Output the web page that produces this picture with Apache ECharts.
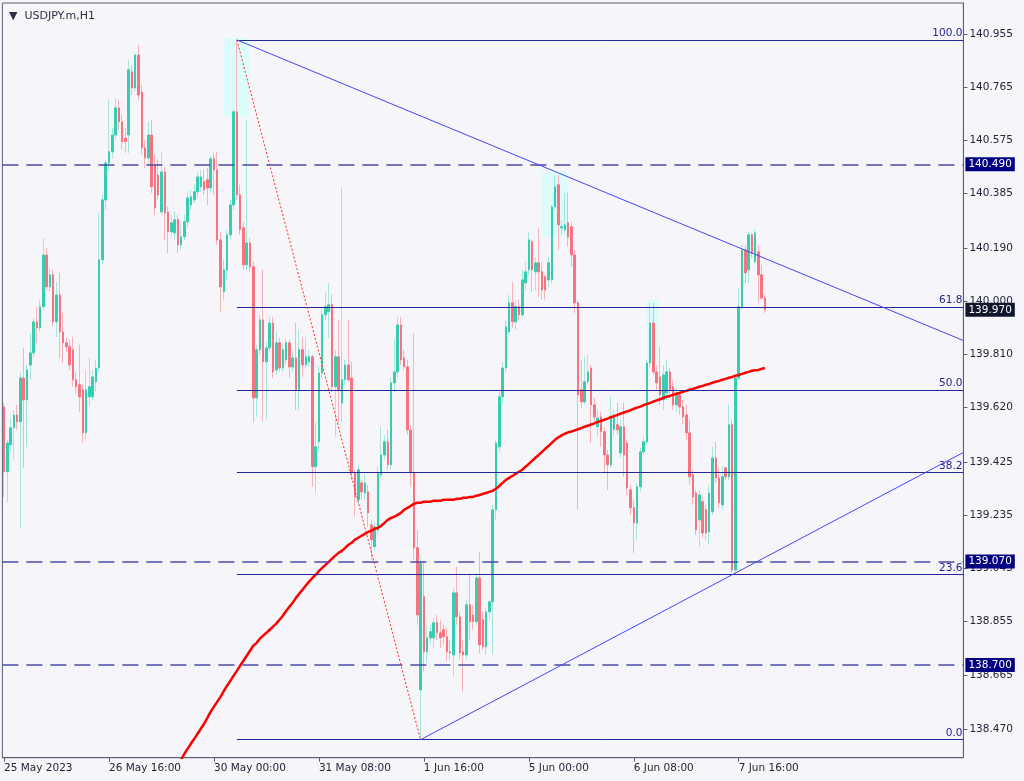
<!DOCTYPE html>
<html><head><meta charset="utf-8">
<script src="https://cdn.jsdelivr.net/npm/echarts@6/dist/echarts.min.js"></script>
<style>html,body{margin:0;padding:0;background:#f5f5fa}#c{width:1024px;height:781px}</style>
</head><body><div id="c"></div>
<script>
const symbolTitle = 'USDJPY.m,H1';
const xTickIndex = [0, 32, 64, 96, 128, 160, 192, 224];
const xTickLabels = ['25 May 2023','26 May 16:00','30 May 00:00','31 May 08:00','1 Jun 16:00','5 Jun 00:00','6 Jun 08:00','7 Jun 16:00'];
const yTicks = [140.955,140.765,140.575,140.385,140.190,140.000,139.810,139.620,139.425,139.235,139.045,138.855,138.665,138.470];

const open = [139.623,139.391,139.487,139.548,139.594,139.570,139.726,139.648,139.773,139.816,
139.927,139.905,139.981,140.166,140.052,140.095,139.927,140.023,139.891,139.852,
139.838,139.827,139.720,139.702,139.684,139.530,139.659,139.659,139.713,139.762,
140.149,140.363,140.495,140.535,140.595,140.692,140.642,140.584,140.595,140.821,
140.763,140.881,140.749,140.549,140.513,140.595,140.488,140.452,140.320,140.463,
140.320,140.249,140.245,140.292,140.202,140.231,140.285,140.345,140.363,140.392,
140.410,140.428,140.435,140.406,140.510,140.470,140.220,140.034,140.113,140.238,
140.345,140.678,140.381,140.263,140.131,140.209,140.124,139.655,139.827,139.934,
139.784,139.834,139.923,139.755,139.852,139.762,139.791,139.852,139.766,139.798,
139.684,139.827,139.773,139.784,139.802,139.409,139.498,139.744,139.952,139.963,
139.988,139.695,139.802,139.637,139.720,139.773,139.726,139.387,139.291,139.351,
139.315,139.319,139.201,139.123,139.183,139.380,139.451,139.498,139.416,139.709,
139.748,139.916,139.798,139.766,139.541,139.387,139.119,138.611,138.944,138.747,
138.797,138.797,138.851,138.815,138.826,138.801,138.747,138.736,138.958,138.872,
138.747,138.736,138.915,138.879,138.855,139.011,138.862,138.765,138.890,138.926,
139.255,139.480,139.659,139.762,139.891,139.995,139.927,139.981,139.952,140.066,
140.113,140.213,140.106,140.138,140.106,140.088,140.077,140.077,140.338,140.417,
140.263,140.256,140.281,140.267,140.166,139.995,139.684,139.641,139.713,139.762,
139.630,139.552,139.587,139.534,139.451,139.416,139.541,139.559,139.458,139.552,
139.494,139.326,139.262,139.208,139.337,139.462,139.498,139.780,139.923,139.748,
139.730,139.648,139.673,139.748,139.695,139.630,139.666,139.623,139.594,139.530,
139.380,139.315,139.219,139.284,139.255,139.176,139.248,139.440,139.369,139.273,
139.405,139.373,139.559,139.040,139.726,139.981,140.184,140.113,140.238,140.142,
140.177,140.095,140.012];
const close = [139.391,139.494,139.548,139.594,139.570,139.726,139.648,139.755,139.816,139.927,
139.905,139.981,140.166,140.052,140.095,139.927,140.023,139.891,139.852,139.838,
139.773,139.720,139.695,139.659,139.530,139.684,139.695,139.730,139.762,140.149,
140.363,140.495,140.535,140.595,140.692,140.642,140.571,140.571,140.828,140.763,
140.881,140.738,140.549,140.513,140.595,140.410,140.334,140.381,140.463,140.316,
140.249,140.281,140.292,140.202,140.231,140.285,140.370,140.374,140.392,140.445,
140.445,140.399,140.406,140.510,140.470,140.220,140.052,140.113,140.238,140.345,
140.678,140.381,140.256,140.131,140.209,140.124,139.655,139.827,139.934,139.784,
139.834,139.923,139.748,139.852,139.762,139.827,139.852,139.766,139.798,139.684,
139.827,139.773,139.802,139.802,139.409,139.480,139.744,139.952,139.981,139.988,
139.695,139.802,139.684,139.720,139.773,139.720,139.387,139.301,139.398,139.319,
139.351,139.244,139.148,139.194,139.387,139.451,139.498,139.416,139.709,139.748,
139.916,139.791,139.766,139.541,139.387,139.119,138.879,139.065,138.747,138.797,
138.819,138.851,138.815,138.797,138.801,138.747,138.743,138.958,138.872,138.743,
138.736,138.915,138.855,138.855,139.011,138.772,138.765,138.890,138.926,139.255,
139.494,139.659,139.762,139.909,139.995,139.927,139.981,139.952,140.077,140.106,
140.220,140.113,140.138,140.106,140.041,140.041,140.138,140.338,140.410,140.274,
140.267,140.274,140.231,140.166,139.995,139.666,139.641,139.713,139.748,139.630,
139.587,139.583,139.534,139.451,139.416,139.587,139.587,139.541,139.552,139.451,
139.333,139.262,139.208,139.337,139.462,139.498,139.780,139.923,139.748,139.709,
139.666,139.737,139.748,139.684,139.630,139.673,139.623,139.587,139.530,139.373,
139.301,139.183,139.308,139.172,139.172,139.315,139.440,139.369,139.280,139.373,
139.373,139.559,139.040,139.726,139.981,140.184,140.102,140.238,140.173,140.245,
140.095,140.012,139.970];
const low = [139.301,139.280,139.458,139.434,139.541,139.187,139.405,139.480,139.720,139.798,
139.852,139.891,139.970,140.041,140.034,139.909,139.873,139.798,139.780,139.820,
139.755,139.695,139.673,139.605,139.494,139.505,139.623,139.648,139.677,139.748,
140.131,140.327,140.470,140.513,140.578,140.613,140.542,140.531,140.531,140.738,
140.749,140.721,140.524,140.477,140.488,140.388,140.309,140.363,140.309,140.220,
140.173,140.227,140.220,140.173,140.184,140.220,140.263,140.327,140.352,140.370,
140.392,140.381,140.345,140.392,140.381,140.202,139.963,140.006,140.077,140.220,
140.327,140.363,140.238,140.113,140.113,140.106,139.566,139.587,139.809,139.570,
139.577,139.820,139.726,139.737,139.748,139.748,139.773,139.726,139.748,139.612,
139.612,139.730,139.762,139.766,139.337,139.315,139.462,139.726,139.934,139.869,
139.677,139.516,139.566,139.566,139.702,139.713,139.362,139.230,139.273,139.291,
139.291,139.194,139.076,139.112,139.165,139.369,139.434,139.398,139.398,139.673,
139.726,139.773,139.755,139.523,139.337,139.076,138.844,138.433,138.676,138.708,
138.772,138.761,138.790,138.761,138.772,138.712,138.719,138.658,138.844,138.719,
138.604,138.719,138.790,138.826,138.844,138.743,138.754,138.736,138.862,138.736,
139.219,139.462,139.630,139.748,139.880,139.905,139.898,139.934,139.945,140.041,
140.095,140.034,140.041,140.016,140.006,140.006,140.052,140.066,140.327,140.184,
140.238,140.245,140.195,140.124,139.959,139.255,139.619,139.630,139.702,139.494,
139.559,139.516,139.480,139.387,139.326,139.405,139.523,139.523,139.440,139.373,
139.308,139.237,139.101,139.148,139.319,139.451,139.487,139.762,139.737,139.684,
139.630,139.612,139.648,139.666,139.612,139.605,139.594,139.559,139.505,139.344,
139.273,139.165,139.123,139.154,139.148,139.130,139.237,139.351,139.262,139.255,
139.362,139.362,139.029,139.026,139.720,139.970,140.066,140.066,140.155,140.131,
139.995,140.006,139.959];
const high = [139.637,139.505,139.583,139.612,139.630,139.748,139.834,139.773,139.887,139.941,
139.981,140.006,140.227,140.191,140.120,140.113,140.070,140.102,139.959,139.869,
139.863,139.873,139.748,139.845,139.702,139.755,139.798,139.755,139.791,140.316,
140.381,140.506,140.721,140.620,140.727,140.721,140.667,140.620,140.864,140.846,
140.888,140.917,140.774,140.578,140.642,140.649,140.524,140.506,140.535,140.481,
140.338,140.309,140.320,140.309,140.274,140.309,140.392,140.399,140.417,140.463,
140.470,140.470,140.477,140.521,140.531,140.535,140.249,140.149,140.256,140.363,
140.685,140.935,140.417,140.285,140.649,140.227,140.142,139.845,139.952,140.113,
139.856,139.945,139.945,139.891,139.869,139.845,139.869,139.863,139.820,139.923,
139.898,139.873,139.873,139.827,139.809,139.566,139.766,139.970,140.034,140.066,
140.023,139.827,139.934,140.410,139.791,139.934,139.784,139.398,139.416,139.362,
139.380,139.344,139.219,139.212,139.409,139.552,139.523,139.541,139.726,139.863,
139.945,139.945,139.827,139.791,139.559,139.887,139.183,139.094,139.065,138.844,
138.844,138.868,138.879,138.862,138.844,138.833,138.790,138.976,139.051,138.890,
138.790,138.933,139.022,138.915,139.029,139.105,138.890,138.904,138.933,139.273,
139.505,139.677,139.784,139.934,140.023,140.070,140.006,140.006,140.113,140.142,
140.249,140.220,140.155,140.263,140.142,140.095,140.159,140.345,140.452,140.452,
140.292,140.388,140.388,140.285,140.184,140.006,139.791,139.802,139.809,139.773,
139.655,139.612,139.605,139.548,139.469,139.659,139.612,139.637,139.577,139.637,
139.505,139.344,139.291,139.351,139.476,139.516,139.791,139.995,139.995,139.773,
139.838,139.773,139.791,139.762,139.720,139.691,139.684,139.648,139.630,139.577,
139.398,139.326,139.326,139.301,139.273,139.344,139.480,139.498,139.405,139.409,
139.409,139.630,139.577,139.737,140.048,140.202,140.202,140.249,140.245,140.256,
140.202,140.131,140.023];

const maStart = 52;
const ma = [138.325,138.343,138.361,138.383,138.401,138.419,138.436,138.454,138.472,138.490,
138.511,138.533,138.551,138.569,138.586,138.607,138.626,138.643,138.662,138.679,
138.698,138.715,138.733,138.751,138.769,138.779,138.794,138.805,138.815,138.826,
138.837,138.848,138.862,138.876,138.893,138.908,138.922,138.940,138.955,138.969,
138.984,138.998,139.011,139.022,139.036,139.047,139.058,139.069,139.080,139.091,
139.101,139.108,139.119,139.130,139.137,139.148,139.155,139.162,139.169,139.176,
139.180,139.187,139.190,139.198,139.208,139.219,139.226,139.230,139.237,139.244,
139.255,139.262,139.269,139.276,139.280,139.280,139.284,139.284,139.284,139.287,
139.287,139.287,139.291,139.291,139.291,139.291,139.294,139.294,139.298,139.298,
139.301,139.301,139.305,139.308,139.312,139.315,139.319,139.323,139.330,139.340,
139.351,139.362,139.369,139.376,139.384,139.391,139.398,139.409,139.419,139.430,
139.441,139.451,139.462,139.473,139.483,139.494,139.505,139.514,139.521,139.527,
139.532,139.535,139.539,139.543,139.547,139.552,139.556,139.560,139.564,139.569,
139.573,139.577,139.581,139.586,139.590,139.594,139.599,139.603,139.607,139.611,
139.616,139.620,139.624,139.629,139.633,139.637,139.642,139.646,139.650,139.655,
139.659,139.662,139.666,139.670,139.673,139.677,139.680,139.684,139.687,139.691,
139.695,139.698,139.702,139.705,139.709,139.713,139.716,139.720,139.723,139.727,
139.730,139.734,139.737,139.741,139.745,139.748,139.752,139.754,139.755,139.759,
139.762];

const fibHigh = [71, 140.935];
const fibLow = [127, 138.433];
const fibLevels = [0, 23.6, 38.2, 50, 61.8, 100];
const fibLabels = ['0.0', '23.6', '38.2', '50.0', '61.8', '100.0'];
const hLevels = [140.490, 139.070, 138.700];
const bidPrice = 139.970;
const upperTrend = [[71, 140.935], [292.5, 139.860]];
const lowerTrend = [[127, 138.433], [292.5, 139.460]];
const swingLine = [[71, 140.935], [127, 138.433]];
const highlightBoxes = [
  [[66.8, 140.942], [74.7, 140.660]],
  [[163.9, 140.464], [171.7, 140.232]],
  [[195.9, 140.006], [199.5, 139.791]]
];
const xMin = -0.5, xMax = 292.5;
const yMin = 138.3685, yMax = 141.067;

const FONT = 'DejaVu Sans';
const candles = open.map((o, i) => [i, o, close[i], low[i], high[i]]);
const bodies = open.map((o, i) => [i, o, close[i], Math.min(o, close[i]), Math.max(o, close[i])]);
const maData = ma.map((v, k) => [k + maStart, v]);

const fibLines = fibLevels.map((lv, k) => {
  const p = +(fibLow[1] + lv / 100 * (fibHigh[1] - fibLow[1])).toFixed(4);
  return [
    { coord: [fibHigh[0], p], label: { formatter: fibLabels[k] } },
    { coord: [xMax, p] }
  ];
});
const boxLabel = (txt, bg) => ({ show: true, position: 'end', formatter: txt, backgroundColor: bg,
  color: '#ffffff', padding: [2, 3, 1, 3], distance: 2, fontSize: 10.5, fontFamily: FONT });
const hLines = hLevels.map(v => ({
  yAxis: v,
  lineStyle: { type: [16, 8], width: 1.5, color: '#4b4ba8' },
  label: boxLabel(v.toFixed(3), '#000080')
}));
const bidLine = {
  yAxis: bidPrice,
  lineStyle: { color: 'rgba(0,0,0,0)', width: 0 },
  label: boxLabel(bidPrice.toFixed(3), '#10162c')
};

const chart = echarts.init(document.getElementById('c'), null, { renderer: 'canvas' });
chart.setOption({
  animation: false,
  backgroundColor: '#f5f5fa',
  textStyle: { fontFamily: FONT },
  title: {
    text: '{t|▼}  ' + symbolTitle,
    left: 4, top: 6,
    textStyle: { fontFamily: FONT, fontSize: 11, fontWeight: 'normal', color: '#2e2e44',
                 rich: { t: { fontSize: 11, color: '#2e2e44', fontFamily: FONT } } }
  },
  grid: { left: 2.4, right: 60.6, top: 3, bottom: 23.3, show: true, borderColor: '#5c5c74',
          borderWidth: 1, backgroundColor: 'transparent', outerBoundsMode: 'none', containLabel: false },
  xAxis: {
    type: 'value', min: xMin, max: xMax,
    splitLine: { show: false },
    axisLine: { show: true, onZero: false, lineStyle: { color: '#5c5c74' } },
    axisTick: { show: true, customValues: xTickIndex, length: 4, lineStyle: { color: '#5c5c74' } },
    axisLabel: { customValues: xTickIndex, align: 'left', margin: 5, color: '#25253a', fontSize: 10.5,
                 fontFamily: FONT, hideOverlap: false,
                 formatter: v => xTickLabels[xTickIndex.indexOf(Math.round(v))] || '' }
  },
  yAxis: {
    type: 'value', position: 'right', min: yMin, max: yMax, scale: true,
    splitLine: { show: false },
    axisLine: { show: true, onZero: false, lineStyle: { color: '#5c5c74' } },
    axisTick: { show: true, customValues: yTicks, length: 4, lineStyle: { color: '#5c5c74' } },
    axisLabel: { customValues: yTicks, margin: 6, color: '#25253a', fontSize: 10.5, fontFamily: FONT,
                 hideOverlap: false, formatter: v => v.toFixed(3) }
  },
  series: [
    {
      name: 'boxes', type: 'line', data: [], z: 1, silent: true,
      markArea: { silent: true, itemStyle: { color: '#dcfcfc' },
                  data: highlightBoxes.map(b => [{ coord: b[0] }, { coord: b[1] }]) }
    },
    {
      name: 'wicks', type: 'candlestick', z: 2, barWidth: 1, silent: true,
      encode: { x: 0, y: [1, 2, 3, 4] },
      data: candles,
      itemStyle: { color: '#a6e7dc', color0: '#f7b3bb', borderColor: '#a6e7dc', borderColor0: '#f7b3bb', borderWidth: 1 }
    },
    {
      name: 'bodies', type: 'candlestick', z: 3, barWidth: 2, silent: true,
      encode: { x: 0, y: [1, 2, 3, 4] },
      data: bodies,
      itemStyle: { color: '#37cdb1', color0: '#f7737f', borderColor: '#37cdb1', borderColor0: '#f7737f', borderWidth: 1 }
    },
    {
      name: 'MA', type: 'line', z: 4, data: maData, showSymbol: false, symbol: 'none', silent: true,
      lineStyle: { color: '#ff0000', width: 2.5 }
    },
    {
      name: 'upper', type: 'line', z: 5, data: upperTrend, symbol: 'none', silent: true,
      lineStyle: { color: '#4646f5', width: 1 }
    },
    {
      name: 'lower', type: 'line', z: 5, data: lowerTrend, symbol: 'none', silent: true,
      lineStyle: { color: '#4646f5', width: 1 }
    },
    {
      name: 'swing', type: 'line', z: 5, data: swingLine, symbol: 'none', silent: true,
      lineStyle: { color: '#ff2a2a', width: 1, type: [2, 2] }
    },
    {
      name: 'objects', type: 'line', data: [], z: 6, silent: true,
      markLine: {
        silent: true, symbol: ['none', 'none'], animation: false,
        lineStyle: { color: '#25259a', width: 1, type: 'solid' },
        label: { show: true, position: 'insideEndTop', distance: 1, color: '#25258c', fontSize: 10.5, fontFamily: FONT },
        data: [...fibLines, ...hLines, bidLine]
      }
    }
  ]
});
</script></body></html>
